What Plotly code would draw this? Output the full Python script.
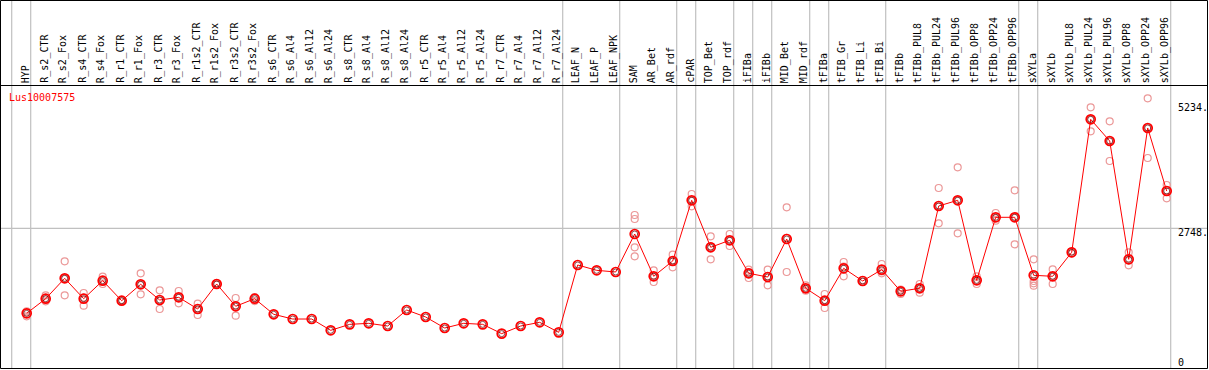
import plotly.graph_objects as go

W, H = 1209, 370

categories = [
    "HYP", "R_s2_CTR", "R_s2_Fox", "R_s4_CTR", "R_s4_Fox", "R_r1_CTR", "R_r1_Fox",
    "R_r3_CTR", "R_r3_Fox", "R_r1s2_CTR", "R_r1s2_Fox", "R_r3s2_CTR", "R_r3s2_Fox",
    "R_s6_CTR", "R_s6_Al4", "R_s6_Al12", "R_s6_Al24", "R_s8_CTR", "R_s8_Al4",
    "R_s8_Al12", "R_s8_Al24", "R_r5_CTR", "R_r5_Al4", "R_r5_Al12", "R_r5_Al24",
    "R_r7_CTR", "R_r7_Al4", "R_r7_Al12", "R_r7_Al24", "LEAF_N", "LEAF_P", "LEAF_NPK",
    "SAM", "AR_Bet", "AR_rdf", "cPAR", "TOP_Bet", "TOP_rdf", "iFIBa", "iFIBb",
    "MID_Bet", "MID_rdf", "tFIBa", "tFIB_Gr", "tFIB_Li", "tFIB_Bi", "tFIBb",
    "tFIBb_PUL8", "tFIBb_PUL24", "tFIBb_PUL96", "tFIBb_OPP8", "tFIBb_OPP24",
    "tFIBb_OPP96", "sXYLa", "sXYLb", "sXYLb_PUL8", "sXYLb_PUL24", "sXYLb_PUL96",
    "sXYLb_OPP8", "sXYLb_OPP24", "sXYLb_OPP96",
]

means = [
    1057, 1348, 1753, 1348, 1706, 1308, 1634, 1322, 1375, 1143, 1640, 1197, 1348,
    1038, 944, 944, 719, 838, 858, 805, 1123, 984, 765, 858, 838, 653, 805, 878, 679,
    2018, 1912, 1879, 2634, 1793, 2097, 3304, 2370, 2509, 1853, 1779, 2535, 1555,
    1308, 1952, 1700, 1926, 1495, 1555, 3191, 3304, 1713, 2966, 2966, 1813, 1793,
    2270, 4914, 4483, 2131, 4742, 3489,
]

replicates = [
    [1075, 998, 1098], [1415, 1296, 1340], [2091, 1415, 1753], [1461, 1209, 1370],
    [1785, 1640, 1700], [1320, 1300, 1305], [1853, 1435, 1620], [1515, 1143, 1310],
    [1501, 1256, 1370], [1249, 1024, 1155], [1660, 1625, 1640], [1362, 1010, 1220],
    [1365, 1300, 1380],
    [], [], [], [], [], [], [], [], [], [], [], [], [], [], [], [],
    [], [], [],
    [3012, 2932, 2370, 2191], [1912, 1680, 1790], [2223, 1972, 2100],
    [3429, 3185, 3300], [2588, 2131, 2390], [2634, 2396, 2500], [1926, 1759, 1870],
    [1926, 1614, 1790], [3165, 1879, 2560], [1614, 1507, 1545], [1441, 1163, 1320],
    [2078, 1793, 1985], [1720, 1685], [2038, 1853, 1890], [1530, 1441, 1510],
    [1640, 1467, 1560], [3549, 2847, 3180], [3960, 2648, 3300], [1793, 1640, 1710],
    [3052, 2899, 2950], [3503, 2429, 2966], [2131, 1700, 1654, 1606],
    [1932, 1640, 1800], [2290, 2250], [5153, 4676, 4914], [4875, 4085, 4490],
    [2270, 2012, 2110], [5332, 4145, 4750], [3608, 3344, 3500],
]

# group separators: drawn just after these category indices
group_ends = [-1, 0, 28, 31, 34, 35, 37, 38, 39, 41, 42, 45, 52, 53, 60]

title_text = "Lus10007575"
ytick_vals = [5234, 2748, 0]
ytick_text = ["5234.", "2748.", "0"]
grid_value = 2748

# ---- geometry helpers (pixel <-> axis) ----
X0PX, DX = 26.7, 19.0        # pixel of first category, spacing
Y0PX, KY = 366.5, 0.0503     # pixel of value 0, px per unit
xr = [(0 - X0PX) / DX, (W - X0PX) / DX]
yr = [(Y0PX - H) / KY, (Y0PX - 0) / KY]

def px(x):
    return x / W

def py(y):
    return 1 - y / H

idx = list(range(len(categories)))
rep_x, rep_y = [], []
for i, reps in enumerate(replicates):
    for v in reps:
        rep_x.append(i)
        rep_y.append(v)

fig = go.Figure()
fig.add_trace(go.Scatter(
    x=rep_x, y=rep_y, mode="markers",
    marker=dict(symbol="circle-open", size=7, color="#eb9898", line=dict(width=1.2)),
    hoverinfo="skip", showlegend=False,
))
fig.add_trace(go.Scatter(
    x=idx, y=means, mode="lines+markers",
    line=dict(color="#ff0000", width=1),
    marker=dict(symbol="circle-open", size=9, color="#ff0000", line=dict(width=1.7)),
    showlegend=False,
))
fig.add_trace(go.Scatter(
    x=idx, y=means, mode="markers",
    marker=dict(symbol="circle-open", size=6, color="#600000", line=dict(width=0.7)),
    hoverinfo="skip", showlegend=False,
))

shapes = []
gray = "#c0c0c0"
for g in group_ends:
    shapes.append(dict(type="line", xref="x", yref="paper",
                       x0=g + 4 / DX, x1=g + 4 / DX, y0=py(369), y1=py(0),
                       line=dict(color=gray, width=1.2), layer="below"))
shapes.append(dict(type="line", xref="paper", yref="y",
                   x0=px(1), x1=px(1207), y0=grid_value, y1=grid_value,
                   line=dict(color=gray, width=1.2), layer="below"))
# black frame and header separator
shapes.append(dict(type="rect", xref="paper", yref="paper",
                   x0=px(0.5), x1=px(1207.5), y0=py(368.5), y1=py(0.5),
                   line=dict(color="black", width=1)))
shapes.append(dict(type="line", xref="paper", yref="paper",
                   x0=px(0.5), x1=px(1207.5), y0=py(85.5), y1=py(85.5),
                   line=dict(color="black", width=1)))

FONT = "DejaVu Sans Mono"
annotations = []
for i, c in enumerate(categories):
    annotations.append(dict(
        x=i, xref="x", y=py(84), yref="paper", text=c, textangle=-90,
        xanchor="center", yanchor="bottom", showarrow=False, xshift=-1.5,
        font=dict(family=FONT, size=10, color="black"), borderpad=0,
    ))
annotations.append(dict(
    x=px(8), xref="paper", y=py(97), yref="paper", text=title_text,
    xanchor="left", yanchor="middle", showarrow=False, borderpad=0,
    font=dict(family=FONT, size=10, color="#ff0000"),
))
for v, t in zip(ytick_vals, ytick_text):
    annotations.append(dict(
        x=px(1177), xref="paper", y=v, yref="y", text=t,
        xanchor="left", yanchor="middle", showarrow=False, borderpad=0,
        yshift=(4.5 if v == 0 else -4),
        font=dict(family=FONT, size=10, color="black"),
    ))

fig.update_layout(
    width=W, height=H, autosize=False,
    margin=dict(l=0, r=0, t=0, b=0),
    paper_bgcolor="white", plot_bgcolor="white",
    xaxis=dict(range=xr, visible=False, fixedrange=True),
    yaxis=dict(range=yr, visible=False, fixedrange=True),
    shapes=shapes, annotations=annotations,
)

fig.write_html(
    "out.html",
    config={"displayModeBar": False},
    post_script="document.body.style.margin='0';document.body.style.padding='0';"
                "document.body.style.overflow='hidden';",
)
